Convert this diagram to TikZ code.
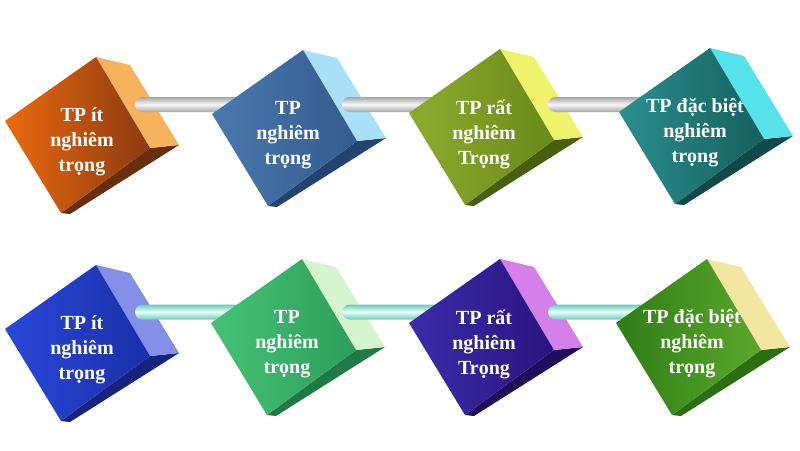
\documentclass[tikz,border=0pt]{standalone}
\usepackage{fontspec}
\setmainfont{Liberation Serif}
\definecolor{oA}{HTML}{EC6A0E}\definecolor{oB}{HTML}{8A3A10}\definecolor{oS}{HTML}{F7B35C}\definecolor{oD}{HTML}{6B2E0A}
\definecolor{bA}{HTML}{4A78AE}\definecolor{bB}{HTML}{345C8E}\definecolor{bS}{HTML}{A9DFF7}\definecolor{bD}{HTML}{23446E}
\definecolor{gA}{HTML}{8CAB2E}\definecolor{gB}{HTML}{6A8A1A}\definecolor{gS}{HTML}{EEF36B}\definecolor{gD}{HTML}{4A5E10}
\definecolor{tA}{HTML}{2A8F8E}\definecolor{tB}{HTML}{15605F}\definecolor{tS}{HTML}{55E2EA}\definecolor{tD}{HTML}{0F4A4A}
\definecolor{BA}{HTML}{2A48DA}\definecolor{BB}{HTML}{1A2FA8}\definecolor{BS}{HTML}{8490E8}\definecolor{BD}{HTML}{142480}
\definecolor{GA}{HTML}{44C276}\definecolor{GB}{HTML}{2E9E5C}\definecolor{GS}{HTML}{D5F5CF}\definecolor{GD}{HTML}{1F7A45}
\definecolor{PA}{HTML}{3C2CAA}\definecolor{PB}{HTML}{2A1480}\definecolor{PS}{HTML}{D47FEA}\definecolor{PD}{HTML}{1F0E5C}
\definecolor{LA}{HTML}{2E7D16}\definecolor{LB}{HTML}{5CA82C}\definecolor{LS}{HTML}{F2E6A0}\definecolor{LD}{HTML}{2C6E12}
\definecolor{grayE}{HTML}{A4A4A4}\definecolor{grayM}{HTML}{F6F6F6}
\definecolor{aquaE}{HTML}{6CCABB}\definecolor{aquaM}{HTML}{E6FFF8}
\tikzset{
  cubetext/.style={text=white, font=\fontsize{20}{25}\selectfont\bfseries, align=center, inner sep=0pt},
  graytube/.style={top color=grayE, bottom color=grayE, middle color=grayM, rounded corners=7.5pt},
  aquatube/.style={top color=aquaE, bottom color=aquaE, middle color=aquaM, rounded corners=7.5pt},
}
% #1 name, #2 cx, #3 cy, #4 front light, #5 front dark, #6 side, #7 bottom, #8 text, #9 text dx
\newcommand\mycube[9]{%
  \begin{scope}[shift={(#2,#3)}]
    \fill[#7] (72,13) -- (101,10) -- (-8,79) -- (-17,78) -- cycle;
    \fill[#6] (18,-78) -- (52,-70) -- (101,10) -- (72,13) -- cycle;
    \shade[left color=#4, right color=#5] (18,-78) -- (-73,-14) -- (-17,78) -- (72,13) -- cycle;
    \node[cubetext] (#1) at (#9,7) {#8};
  \end{scope}}
% #1 start coord name, #2 end coord name, #3 style
\newcommand\mytube[3]{%
  \shade[#3] ([yshift=7.5pt]#1) rectangle ([yshift=-7.5pt]#2);}
\begin{document}
\begin{tikzpicture}[x=1pt,y=-1pt]
\useasboundingbox (0,0) rectangle (800,450);
\fill[white] (0,0) rectangle (800,450);
% row 1
\coordinate (s1) at (135,104.5); \coordinate (e1) at (285,104.5);
\coordinate (s2) at (342,104.5); \coordinate (e2) at (482,104.5);
\coordinate (s3) at (548,104.5); \coordinate (e3) at (692,104.5);
\mycube{c1}{78}{135}{oA}{oB}{oS}{oD}{TP ít\\nghiêm\\trọng}{4}
\mytube{s1}{e1}{graytube}
\mycube{c2}{285}{128}{bA}{bB}{bS}{bD}{TP\\nghiêm\\trọng}{3}
\mytube{s2}{e2}{graytube}
\mycube{c3}{482}{127}{gA}{gB}{gS}{gD}{TP rất\\nghiêm\\Trọng}{2}
\mytube{s3}{e3}{graytube}
\mycube{c4}{692}{126}{tA}{tB}{tS}{tD}{TP đặc biệt\\nghiêm\\trọng}{3}
% row 2
\coordinate (u1) at (135,312); \coordinate (v1) at (284,312);
\coordinate (u2) at (342,312); \coordinate (v2) at (482,312);
\coordinate (u3) at (548,312); \coordinate (v3) at (689,312);
\mycube{d1}{78}{343}{BA}{BB}{BS}{BD}{TP ít\\nghiêm\\trọng}{4}
\mytube{u1}{v1}{aquatube}
\mycube{d2}{284}{337}{GA}{GB}{GS}{GD}{TP\\nghiêm\\trọng}{3}
\mytube{u2}{v2}{aquatube}
\mycube{d3}{482}{337}{PA}{PB}{PS}{PD}{TP rất\\nghiêm\\Trọng}{2}
\mytube{u3}{v3}{aquatube}
\mycube{d4}{689}{337}{LA}{LB}{LS}{LD}{TP đặc biệt\\nghiêm\\trọng}{3}
\end{tikzpicture}
\end{document}
